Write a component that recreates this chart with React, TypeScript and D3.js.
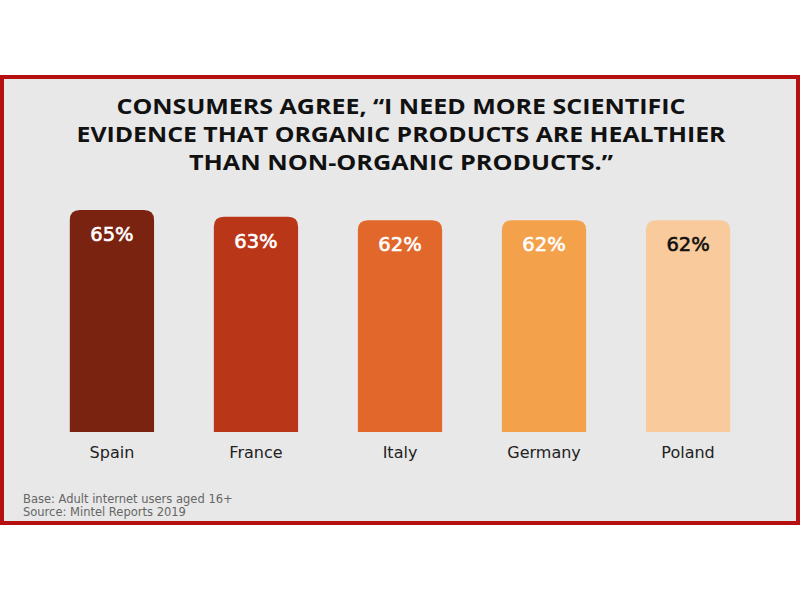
import React from 'react';
import * as d3 from 'd3';

const countries = ['Spain', 'France', 'Italy', 'Germany', 'Poland'];
const shares = [65, 63, 62, 62, 62];
const barColors = ['#7b2311', '#ba3619', '#e1672a', '#f4a14b', '#f9ca9b'];
const valueColors = ['#ffffff', '#ffffff', '#ffffff', '#ffffff', '#111111'];
const titleLines = [
  'CONSUMERS AGREE, \u201CI NEED MORE SCIENTIFIC',
  'EVIDENCE THAT ORGANIC PRODUCTS ARE HEALTHIER',
  'THAN NON-ORGANIC PRODUCTS.\u201D',
];
const titleWidths = [569, 649, 424];
const notes = ['Base: Adult internet users aged 16+', 'Source: Mintel Reports 2019'];

const W = 800;
const H = 600;

// rounded-top bar path
const barPath = (x: number, y: number, w: number, h: number, r: number) =>
  `M${x},${y + h}V${y + r}Q${x},${y} ${x + r},${y}H${x + w - r}Q${x + w},${y} ${x + w},${y + r}V${y + h}Z`;

export default function App() {
  const x = d3.scaleBand<string>()
    .domain(countries)
    .range([41, 759])
    .paddingInner(0.415)
    .paddingOuter(0.2);

  const y = d3.scaleLinear()
    .domain([0, 65])
    .range([432, 210]);

  return (
    <div style={{ position: 'fixed', left: 0, top: 0 }}>
      <svg width={W} height={H} style={{ display: 'block', background: '#ffffff' }}>
        <rect x={2} y={77} width={796} height={446} fill="#e8e8e8" stroke="#b3100f" strokeWidth={4} />

        {titleLines.map((t, i) => (
          <text
            key={i}
            x={401}
            y={114 + i * 28}
            textAnchor="middle"
            fontFamily="'Open Sans', sans-serif"
            fontWeight={700}
            fontSize={22}
            fill="#111"
            textLength={titleWidths[i]}
            lengthAdjust="spacingAndGlyphs"
          >
            {t}
          </text>
        ))}

        {countries.map((c, i) => {
          const bx = x(c) || 0;
          const bw = x.bandwidth();
          const top = y(shares[i]);
          return (
            <g key={c}>
              <path d={barPath(bx, top, bw, y(0) - top, 10)} fill={barColors[i]} />
              <text
                x={bx + bw / 2}
                y={top + 31}
                textAnchor="middle"
                fontFamily="'DejaVu Sans', sans-serif"
                fontSize={19.5}
                fill={valueColors[i]}
                stroke={valueColors[i]}
                strokeWidth={0.6}
              >
                {shares[i]}%
              </text>
              <text
                x={bx + bw / 2}
                y={458}
                textAnchor="middle"
                fontFamily="'DejaVu Sans', sans-serif"
                fontSize={16}
                fill="#222"
              >
                {c}
              </text>
            </g>
          );
        })}

        {notes.map((n, i) => (
          <text
            key={n}
            x={23}
            y={503 + i * 12.5}
            fontFamily="'DejaVu Sans', sans-serif"
            fontSize={11.5}
            fill="#666"
          >
            {n}
          </text>
        ))}
      </svg>
    </div>
  );
}
